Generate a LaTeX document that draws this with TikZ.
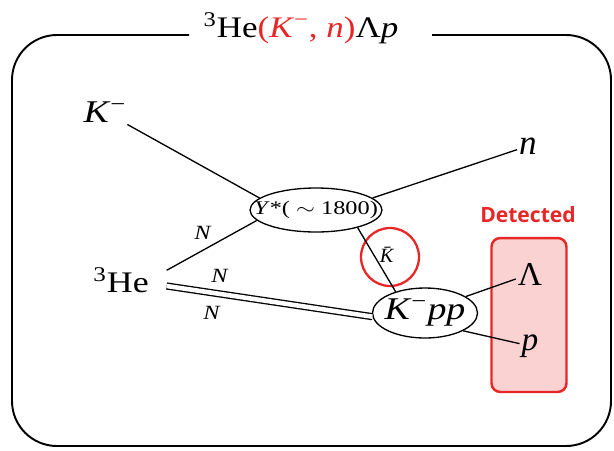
\documentclass[tikz,border=0pt]{standalone}
\usepackage{fontspec}
\setmainfont{Liberation Serif}
\newfontfamily\detfont{Open Sans}
\usepackage{graphicx}
\usetikzlibrary{shapes.geometric}

\definecolor{hotred}{RGB}{232,38,38}
\definecolor{pinkfill}{RGB}{250,210,210}

\newcommand{\wide}[2][1.2]{\scalebox{#1}[1]{#2}}

\begin{document}
\begin{tikzpicture}[x=0.02cm, y=-0.02cm,
  big/.style={font=\fontsize{18}{18}\selectfont, inner sep=1pt},
  small/.style={font=\fontsize{11.5}{11.5}\selectfont, inner sep=1pt},
  vertex/.style={ellipse, draw, line width=0.75pt, inner sep=0pt},
  prop/.style={line width=0.75pt},
  frame/.style={line width=1.1pt, rounded corners=0.9cm},
  detbox/.style={rectangle, rounded corners=5pt, draw=hotred,
    fill=pinkfill, line width=1.4pt}
]
\useasboundingbox (0,0) rectangle (614,450);

%% --- Title and frame ---
\node[font=\fontsize{17}{17}\selectfont, inner sep=0pt] (title) at (301,28)
  {\wide[1.17]{\textsuperscript{3}He\textcolor{hotred}{(\textit{K}\textsuperscript{−}, \textit{n})}Λ\textit{p}}};
\coordinate (fl) at (189,35);
\coordinate (fr) at (432,35);
\draw[frame] (fl) -- (12,35) -- (12,446) -- (611,446) -- (611,35) -- (fr);

%% --- Detected box ---
\node[detbox, minimum width=1.5cm, minimum height=3.08cm] (det) at (529,315) {};
\node[font=\detfont\bfseries\fontsize{12}{12}\selectfont, text=hotred] (dettxt) at (528,215) {Detected};

%% --- External particles ---
\node[big] (km) at (105,112) {\wide{\textit{K}\textsuperscript{−}}};
\node[big, font=\fontsize{20}{20}\selectfont] (nout) at (528,146) {\textit{n}};
\node[big, font=\fontsize{17}{17}\selectfont] (he) at (121,280) {\wide{\textsuperscript{3}He}};
\node[big, font=\fontsize{19}{19}\selectfont] (lam) at (530,274) {Λ};
\node[big, font=\fontsize{19}{19}\selectfont] (prot) at (530,346) {\textit{p}};

%% --- Vertices ---
\node[vertex, minimum width=2.64cm, minimum height=0.88cm] (ystar) at (316,210) {};
\node[small, font=\fontsize{11}{11}\selectfont] (ylab) at (ystar) {\wide[1.26]{\textit{Y}*( $\sim$ 1800)}};
\node[vertex, minimum width=2.1cm, minimum height=1.0cm] (kpp) at (425,313) {};
\node[big] (kpplab) at (kpp) {\wide{\textit{K}\textsuperscript{−}\textit{pp}}};

%% --- Kbar exchange ---
\node[circle, draw=hotred, line width=1.3pt, minimum size=1.16cm] (ring) at (390,257) {};
\node[small] (kbar) at (389,255) {\textit{\=K}};

%% --- Lines ---
\draw[prop] (km) -- (ystar.168);
\draw[prop] (ystar.12) -- (nout);
\draw[prop] ([shift={(9pt,5.5pt)}]he.east) -- (ystar.190);
\draw[prop, double, double distance=2.6pt] ([shift={(9pt,-3.4pt)}]he.east) -- (kpp.184);
\draw[prop] (ystar.-23) -- (kpp.144);
\draw[prop] (kpp.22) -- (lam);
\draw[prop] (kpp.-25) -- (prot);

%% --- Nucleon labels ---
\node[small] (n1) at (203,233) {\wide{\textit{N}}};
\node[small] (n2) at (220,276) {\wide{\textit{N}}};
\node[small] (n3) at (212,313) {\wide{\textit{N}}};

\end{tikzpicture}
\end{document}
